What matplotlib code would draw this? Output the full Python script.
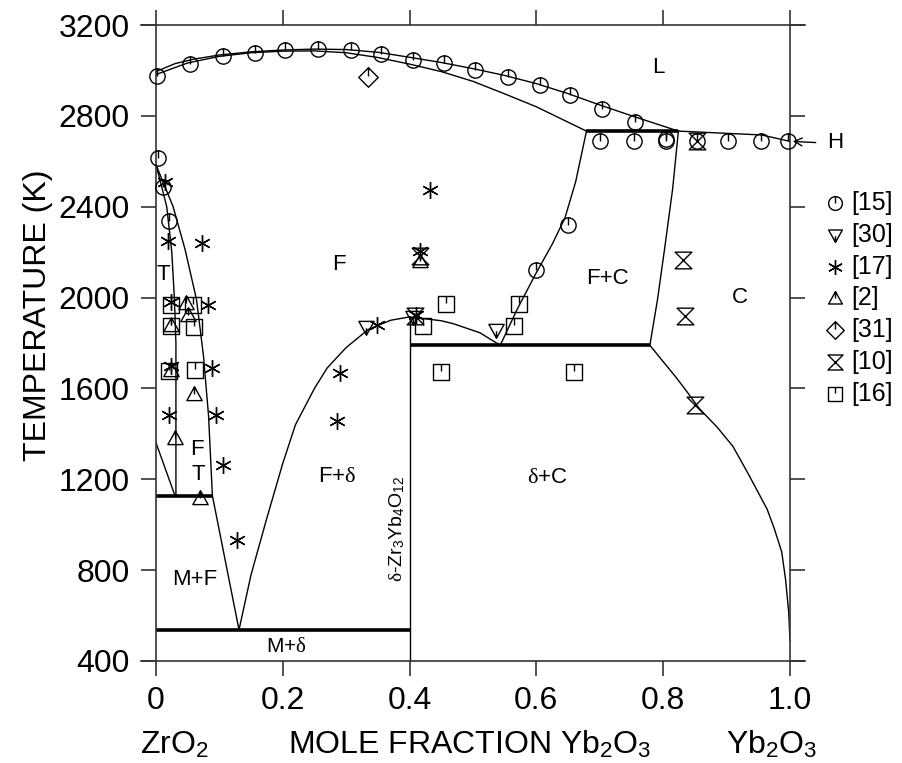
import numpy as np
import matplotlib
matplotlib.use('Agg')
import matplotlib.pyplot as plt
from matplotlib.path import Path

plt.rcParams['font.family'] = ['Liberation Sans', 'DejaVu Sans']
plt.rcParams['mathtext.fontset'] = 'custom'
plt.rcParams['mathtext.rm'] = 'Liberation Serif'
plt.rcParams['mathtext.sf'] = 'Liberation Sans'
plt.rcParams['mathtext.it'] = 'Liberation Serif:italic'

# ---- phase boundaries (mole fraction Yb2O3, K) ----
liq_x = [0, 0.03, 0.06, 0.1, 0.15, 0.2, 0.25, 0.3, 0.35, 0.4, 0.45, 0.5, 0.55, 0.6, 0.65, 0.7, 0.755, 0.8, 0.824]
liq_T = [2995, 3030, 3050, 3068, 3082, 3090, 3094, 3092, 3080, 3058, 3035, 3008, 2978, 2942, 2898, 2848, 2796, 2755, 2733]
sol_x = [0, 0.05, 0.1, 0.15, 0.2, 0.25, 0.3, 0.35, 0.4, 0.45, 0.5, 0.55, 0.6, 0.679]
sol_T = [2982, 3033, 3062, 3078, 3085, 3086, 3078, 3057, 3028, 2995, 2952, 2897, 2840, 2733]
h_x = [0.824, 0.955, 1.0]
h_T = [2733, 2716, 2688]
fc_left_x = [0.543, 0.570, 0.600, 0.625, 0.645, 0.662, 0.679]
fc_left_T = [1790, 1950, 2110, 2235, 2350, 2510, 2733]
fc_right_x = [0.824, 0.815, 0.803, 0.791, 0.779]
fc_right_T = [2733, 2480, 2230, 1990, 1790]
c_solvus_x = [0.779, 0.80, 0.82, 0.835, 0.858, 0.885, 0.91, 0.935, 0.964, 0.975, 0.987, 0.993, 0.998, 1.0]
c_solvus_T = [1790, 1718, 1650, 1595, 1508, 1430, 1345, 1220, 1068, 985, 880, 760, 615, 490]
dome_x = [0.131, 0.15, 0.175, 0.2, 0.22, 0.25, 0.27, 0.30, 0.335, 0.37, 0.40]
dome_T = [537, 780, 1030, 1270, 1440, 1600, 1690, 1780, 1860, 1900, 1915]
fd_x = [0.40, 0.45, 0.469, 0.511, 0.543]
fd_T = [1915, 1898, 1885, 1845, 1790]
fbound_x = [0, 0.027, 0.046, 0.064, 0.075, 0.083, 0.089, 0.131]
fbound_T = [2585, 2401, 2211, 1991, 1742, 1478, 1128, 537]
tbound_x = [0, 0.008, 0.017, 0.025, 0.029, 0.0315, 0.0315]
tbound_T = [2585, 2500, 2400, 2200, 2000, 1800, 1128]
mt_x = [0, 0.030]
mt_T = [1361, 1128]
delta_x = [0.4, 0.4]
delta_T = [400, 1915]

# invariant lines
inv_x = [(0, 0.089), (0, 0.4), (0.4, 0.779), (0.679, 0.824)]
inv_T = [1128, 537, 1790, 2733]

# ---- experimental points ----
ref15_x = [0.002, 0.054, 0.106, 0.156, 0.204, 0.256, 0.307, 0.355, 0.406, 0.455, 0.504, 0.556, 0.605,
           0.653, 0.704, 0.755, 0.700, 0.754, 0.804, 0.804, 0.854, 0.903, 0.955, 0.997,
           0.004, 0.0105, 0.021, 0.600, 0.650]
ref15_T = [2977, 3028, 3065, 3079, 3090, 3094, 3090, 3072, 3046, 3035, 3004, 2972, 2935,
           2891, 2832, 2774, 2688, 2688, 2688, 2700, 2688, 2688, 2690, 2690,
           2614, 2489, 2335, 2123, 2321]
ref30_x = [0.332, 0.405, 0.537]
ref30_T = [1870, 1915, 1859]
ref17_x = [0.0142, 0.0194, 0.072, 0.023, 0.0825, 0.023, 0.0877, 0.021, 0.0946, 0.105, 0.128,
           0.290, 0.285, 0.349, 0.41, 0.416, 0.432]
ref17_T = [2511, 2247, 2240, 1980, 1969, 1700, 1691, 1481, 1481, 1261, 933,
           1669, 1456, 1881, 1925, 2203, 2475]
ref2_x = [0.048, 0.051, 0.023, 0.023, 0.060, 0.030, 0.069, 0.416]
ref2_T = [1977, 1925, 1881, 1683, 1574, 1383, 1119, 2159]
ref31_x = [0.334]
ref31_T = [2969]
ref10_x = [0.854, 0.832, 0.834, 0.850, 0.4085, 0.416]
ref10_T = [2688, 2167, 1918, 1525, 1918, 2181]
ref16_x = [0.023, 0.058, 0.023, 0.060, 0.021, 0.0615, 0.421, 0.458, 0.564, 0.573, 0.449, 0.659]
ref16_T = [1969, 1969, 1874, 1871, 1676, 1683, 1874, 1973, 1874, 1973, 1673, 1673]

refs = ['[15]', '[30]', '[17]', '[2]', '[31]', '[10]', '[16]']


def poly(pts):
    return Path(list(pts) + [pts[0]], [Path.MOVETO] + [Path.LINETO] * (len(pts) - 1) + [Path.CLOSEPOLY])


def with_tick(base, a, b):
    return Path.make_compound_path(base, Path([a, b]))


m_circle = with_tick(Path.unit_circle(), (0, 1), (0, 0))
m_tri_dn = with_tick(poly([(0, -1), (-1, 0.8), (1, 0.8)]), (0, -1), (0, -0.1))
m_tri_up = with_tick(poly([(0, 1), (-1, -0.8), (1, -0.8)]), (0, 1), (0, 0.0))
m_diamond = with_tick(poly([(0, 1), (1, 0), (0, -1), (-1, 0)]), (0, 1), (0, 0.1))
m_square = with_tick(poly([(-1, -1), (1, -1), (1, 1), (-1, 1)]), (0, 1), (0, 0.1))
m_hour = poly([(-1, 1), (1, 1), (-1, -1), (1, -1)])
m_star = (6, 2, 0)

series = [
    (ref15_x, ref15_T, m_circle, 11),
    (ref30_x, ref30_T, m_tri_dn, 11),
    (ref17_x, ref17_T, m_star, 12),
    (ref2_x, ref2_T, m_tri_up, 11),
    (ref31_x, ref31_T, m_diamond, 14),
    (ref10_x, ref10_T, m_hour, 12),
    (ref16_x, ref16_T, m_square, 11),
]

fig = plt.figure(figsize=(9.02, 7.63), dpi=100)
ax = fig.add_axes([0.1729, 0.1337, 0.7029, 0.8335])
ax.set_xlim(0, 1)
ax.set_ylim(400, 3200)

lw = 1.0
for xs, ts in [(liq_x, liq_T), (sol_x, sol_T), (h_x, h_T), (fc_left_x, fc_left_T),
               (fc_right_x, fc_right_T), (c_solvus_x, c_solvus_T), (dome_x, dome_T),
               (fd_x, fd_T), (fbound_x, fbound_T), (tbound_x, tbound_T), (mt_x, mt_T),
               (delta_x, delta_T)]:
    ax.plot(xs, ts, color='black', lw=lw, zorder=2)
for (x0, x1), t in zip(inv_x, inv_T):
    ax.plot([x0, x1], [t, t], color='black', lw=2.6, solid_capstyle='butt', zorder=2)

# H arrow leaving the right axis
ax.annotate('', xy=(1.0, 2688), xytext=(1.045, 2682),
            arrowprops=dict(arrowstyle='->', color='black', lw=1.0, mutation_scale=14),
            annotation_clip=False)
ax.text(1.058, 2684, 'H', fontsize=16, va='center', ha='left', clip_on=False)

for xs, ts, mk, ms in series:
    ax.plot(xs, ts, ls='none', marker=mk, ms=ms, mfc='none', mec='black', mew=1.0, zorder=3,
            clip_on=False)

# legend drawn by hand to the right of the frame
for i, ((xs, ts, mk, ms), lab) in enumerate(zip(series, refs)):
    yf = 1 - (203 + 31.8 * i) / 763
    ax.plot([835 / 902], [yf], transform=fig.transFigure, ls='none', marker=mk,
            ms=ms * 0.9, mfc='none', mec='black', mew=1.0, clip_on=False)
    fig.text(851 / 902, yf, lab, fontsize=18, va='center', ha='left')

# phase labels
lab_kw = dict(fontsize=16, ha='center', va='center')
ax.text(0.792, 3012, 'L', **lab_kw)
ax.text(0.288, 2145, 'F', **lab_kw)
ax.text(0.0115, 2101, 'T', **lab_kw)
ax.text(0.712, 2085, 'F+C', **lab_kw)
ax.text(0.921, 1999, 'C', **lab_kw)
ax.text(0.285, 1214, r'F+$\mathrm{\delta}$', **lab_kw)
ax.text(0.617, 1209, r'$\mathrm{\delta}$+C', **lab_kw)
ax.text(0.064, 1332, 'F', **lab_kw)
ax.text(0.067, 1222, 'T', **lab_kw)
ax.text(0.0615, 760, 'M+F', **lab_kw)
ax.text(0.206, 464, r'M+$\mathrm{\delta}$', fontsize=15, ha='center', va='center')
ax.text(0.381, 980, r'$\mathrm{\delta}$-Zr$_\mathsf{3}$Yb$_\mathsf{4}$O$_\mathsf{12}$',
        fontsize=14, rotation=90, ha='center', va='center')

# frame: vertical spines plain, horizontal lines run a little past the corners
frame_c = '#333333'
for s in ['top', 'bottom']:
    ax.spines[s].set_visible(False)
for s in ['left', 'right']:
    ax.spines[s].set_color(frame_c)
    ax.spines[s].set_linewidth(1.2)
for yy in (0, 1):
    ax.plot([-0.024, 1.024], [yy, yy], transform=ax.transAxes, color=frame_c, lw=1.2,
            clip_on=False, zorder=4)

ax.set_xticks([0, 0.2, 0.4, 0.6, 0.8, 1.0])
ax.set_xticklabels(['0', '0.2', '0.4', '0.6', '0.8', '1.0'])
ax.set_yticks(np.arange(400, 3201, 400))
ax.tick_params(axis='both', direction='out', length=11, width=1.2, color=frame_c,
               labelsize=23, top=True, right=True, labeltop=False, labelright=False)
ax.tick_params(axis='x', pad=7)
ax.tick_params(axis='y', pad=8)

fig.text(38 / 902, 1 - 315 / 763, 'TEMPERATURE (K)', rotation=90, fontsize=23,
         ha='center', va='center')
fig.text(174 / 902, 1 - 753 / 763, r'ZrO$_\mathsf{2}$', fontsize=23, ha='center', va='baseline')
fig.text(470 / 902, 1 - 753 / 763, r'MOLE FRACTION Yb$_\mathsf{2}$O$_\mathsf{3}$', fontsize=23,
         ha='center', va='baseline')
fig.text(772 / 902, 1 - 753 / 763, r'Yb$_\mathsf{2}$O$_\mathsf{3}$', fontsize=23,
         ha='center', va='baseline')

fig.savefig('out.png', dpi=100)
